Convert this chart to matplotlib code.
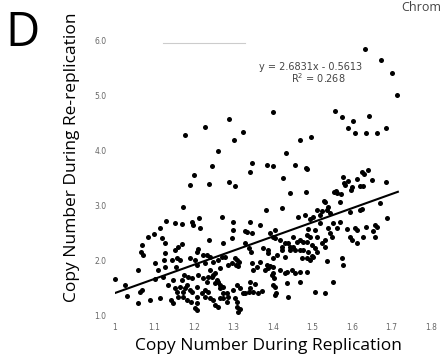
import matplotlib
matplotlib.use('Agg')
import matplotlib.pyplot as plt
import numpy as np

# titik data (copy number replikasi, copy number re-replikasi)
titik = [
    # outlier atas
    (1.633, 5.84), (1.673, 5.64), (1.701, 5.40), (1.714, 5.00), (1.400, 4.69),
    (1.289, 4.56), (1.324, 4.33), (1.301, 4.18), (1.177, 4.27), (1.228, 4.42),
    (1.261, 3.98), (1.246, 3.71), (1.200, 3.55), (1.190, 3.36), (1.238, 3.38),
    (1.289, 3.42), (1.304, 3.35), (1.347, 3.76), (1.342, 3.60), (1.385, 3.73),
    (1.400, 3.71), (1.557, 4.71), (1.575, 4.60), (1.603, 4.53), (1.643, 4.62),
    (1.590, 4.40), (1.608, 4.31), (1.635, 4.31), (1.663, 4.31), (1.686, 4.40),
    (1.468, 4.18), (1.496, 4.24), (1.433, 3.95), (1.456, 3.73), (1.484, 3.67),
    (1.425, 3.49), (1.484, 3.24), (1.443, 3.22), (1.172, 2.96), (1.382, 2.91),
    (1.423, 2.95), (1.481, 2.82),
    # kelompok kanan di atas garis
    (1.577, 3.51), (1.590, 3.44), (1.613, 3.47), (1.625, 3.60), (1.630, 3.56),
    (1.641, 3.64), (1.620, 3.35), (1.628, 3.35), (1.600, 3.33), (1.582, 3.36),
    (1.559, 3.25), (1.562, 3.22), (1.572, 3.20), (1.686, 3.42), (1.570, 3.05),
    (1.532, 3.05), (1.537, 2.91), (1.544, 2.85), (1.511, 2.91), (1.519, 2.82),
    (1.494, 2.75), (1.463, 2.78), (1.671, 3.04), (1.689, 2.76), (1.625, 2.93),
    (1.595, 2.87), (1.486, 3.65), (1.501, 2.78), (1.524, 2.89), (1.539, 2.96),
    (1.529, 3.07), (1.554, 3.24), (1.580, 3.40), (1.597, 3.27), (1.651, 3.45),
    (1.620, 2.91),
    # kelompok kanan di bawah garis
    (1.658, 2.64), (1.663, 2.60), (1.653, 2.53), (1.635, 2.60), (1.658, 2.42),
    (1.608, 2.58), (1.613, 2.55), (1.587, 2.56), (1.595, 2.42), (1.600, 2.36),
    (1.613, 2.31), (1.628, 2.42), (1.570, 2.69), (1.562, 2.58), (1.552, 2.67),
    (1.539, 2.58), (1.544, 2.49), (1.549, 2.42), (1.532, 2.36), (1.524, 2.31),
    (1.532, 2.24), (1.511, 2.42), (1.506, 2.55), (1.519, 2.67), (1.489, 2.56),
    (1.486, 2.45), (1.494, 2.42), (1.476, 2.33), (1.461, 2.33), (1.451, 2.42),
    (1.451, 2.24), (1.456, 2.18), (1.443, 2.24), (1.430, 2.31), (1.418, 2.36),
    (1.405, 2.55), (1.400, 2.42), (1.423, 2.18), (1.430, 2.05), (1.410, 2.09),
    (1.400, 2.04), (1.387, 2.13), (1.385, 1.91), (1.387, 1.85), (1.400, 1.87),
    (1.400, 1.76), (1.400, 1.55), (1.435, 1.78), (1.456, 1.76), (1.468, 1.78),
    (1.494, 2.00), (1.501, 2.05), (1.473, 2.04), (1.468, 2.18), (1.537, 1.98),
    (1.575, 2.04), (1.577, 1.91), (1.468, 1.60), (1.552, 1.60), (1.375, 2.22),
    (1.506, 1.42), (1.532, 1.40), (1.438, 1.33), (1.408, 1.40), (1.372, 1.44),
    (1.349, 1.42), (1.338, 1.42), (1.329, 1.40), (1.309, 1.24), (1.311, 1.05),
    (1.316, 1.11), (1.284, 1.40), (1.286, 1.33),
    # bagian tengah
    (1.271, 2.78), (1.299, 2.69), (1.299, 2.55), (1.342, 2.69), (1.367, 2.64),
    (1.334, 2.51), (1.347, 2.49), (1.238, 2.36), (1.273, 2.31), (1.296, 2.40),
    (1.329, 2.31), (1.339, 2.22), (1.344, 2.15), (1.387, 2.18), (1.392, 2.49),
    (1.405, 2.40), (1.423, 2.24), (1.438, 2.31), (1.443, 2.18), (1.468, 2.36),
    (1.486, 2.33), (1.476, 2.18), (1.489, 2.15), (1.499, 2.27), (1.506, 2.22),
    (1.499, 2.07), (1.486, 2.04), (1.511, 2.15), (1.223, 2.09), (1.241, 2.05),
    (1.248, 1.96), (1.261, 2.00), (1.271, 2.05), (1.278, 2.05), (1.286, 1.91),
    (1.296, 1.95), (1.304, 2.04), (1.309, 2.00), (1.314, 1.96), (1.306, 1.91),
    (1.311, 1.89), (1.347, 1.95), (1.349, 1.82), (1.359, 1.87), (1.367, 1.96),
    (1.380, 1.82), (1.392, 1.89), (1.397, 1.73), (1.403, 1.67), (1.418, 1.82),
    (1.430, 1.76), (1.448, 1.82), (1.486, 1.78), (1.405, 1.51), (1.435, 1.58),
    (1.241, 1.82), (1.248, 1.73), (1.235, 1.69), (1.223, 1.67), (1.233, 1.60),
    (1.258, 1.64), (1.253, 1.58), (1.228, 1.45), (1.235, 1.42), (1.220, 1.40),
    (1.266, 1.49), (1.273, 1.51), (1.299, 1.45), (1.309, 1.55), (1.316, 1.49),
    (1.342, 1.60), (1.342, 1.49), (1.354, 1.56), (1.324, 1.40), (1.362, 1.40),
    (1.405, 1.36), (1.304, 1.31), (1.309, 1.15), (1.248, 1.27), (1.273, 1.31),
    (1.284, 1.24),
    # bagian kiri
    (1.195, 2.69), (1.197, 2.64), (1.213, 2.76), (1.215, 2.58), (1.114, 2.58),
    (1.099, 2.47), (1.084, 2.42), (1.119, 2.40), (1.127, 2.31), (1.068, 2.27),
    (1.066, 2.15), (1.071, 2.09), (1.058, 1.82), (1.000, 1.65), (1.025, 1.55),
    (1.030, 1.35), (1.068, 1.45), (1.058, 1.22), (1.089, 1.27), (1.114, 1.31),
    (1.142, 1.27), (1.147, 1.22), (1.159, 1.33), (1.172, 1.33), (1.182, 1.27),
    (1.192, 1.24), (1.203, 1.13), (1.127, 2.13), (1.124, 2.00), (1.101, 1.95),
    (1.109, 1.82), (1.127, 1.87), (1.152, 2.18), (1.159, 2.24), (1.170, 2.29),
    (1.157, 2.04), (1.165, 2.00), (1.144, 2.00), (1.154, 1.87), (1.190, 2.04),
    (1.203, 2.00), (1.208, 1.91), (1.208, 2.15), (1.210, 2.20), (1.233, 2.09),
    (1.228, 1.95), (1.266, 1.85), (1.253, 1.76), (1.175, 1.73), (1.170, 1.64),
    (1.185, 1.69), (1.195, 1.67), (1.210, 1.73), (1.246, 1.69), (1.261, 1.60),
    (1.266, 1.55), (1.182, 1.55), (1.177, 1.49), (1.190, 1.45), (1.195, 1.42),
    (1.208, 1.51), (1.228, 1.33), (1.241, 1.31), (1.208, 1.33), (1.208, 1.22),
    (1.152, 1.49), (1.134, 1.55), (1.147, 1.64), (1.165, 1.51), (1.122, 1.69),
    (1.101, 1.65), (1.157, 1.42), (1.172, 1.42), (1.273, 1.40), (1.266, 1.31),
    (1.253, 1.18), (1.261, 1.15), (1.208, 1.09), (1.129, 2.71), (1.152, 2.67),
    (1.170, 2.65), (1.329, 2.53), (1.063, 1.42),
]
x_rep = [p[0] for p in titik]
y_rerep = [p[1] for p in titik]

# garis tren seperti yang terlihat pada gambar
garis_x = [1.0, 1.716]
garis_y = [1.40, 3.24]

# garis abu-abu samar di bagian atas
samar_x = [1.122, 1.329]
samar_y = [5.95, 5.95]

xticks = [1.0, 1.1, 1.2, 1.3, 1.4, 1.5, 1.6, 1.7, 1.8]
xticklabels = ['1', '1.1', '1.2', '1.3', '1.4', '1.5', '1.6', '1.7', '1.8']
yticks = [1, 2, 3, 4, 5, 6]
yticklabels = ['1.0', '2.0', '3.0', '4.0', '5.0', '6.0']

fig = plt.figure(figsize=(4.43, 3.64), dpi=100)
ax = fig.add_axes([0.2596, 0.1346, 0.7134, 0.7555])
ax.set_xlim(1.0, 1.8)
ax.set_ylim(1.0, 6.0)

ax.scatter(x_rep, y_rerep, s=13, color='black', linewidths=0, clip_on=False, zorder=3)
ax.plot(garis_x, garis_y, color='black', lw=1.5, zorder=4)
ax.plot(samar_x, samar_y, color='#cccccc', lw=0.8)

for s in ax.spines.values():
    s.set_visible(False)
ax.set_xticks(xticks)
ax.set_xticklabels(xticklabels)
ax.set_yticks(yticks)
ax.set_yticklabels(yticklabels)
ax.tick_params(length=0, labelsize=5.5, labelcolor='#666666')
ax.tick_params(axis='x', pad=6)
ax.tick_params(axis='y', pad=6)

ax.text(1.494, 5.45, 'y = 2.6831x - 0.5613', fontsize=7, color='#444444', ha='center')
ax.text(1.514, 5.21, 'R$^2$ = 0.268', fontsize=7, color='#444444', ha='center')

ax.set_xlabel('Copy Number During Replication', fontsize=12.5, family='Open Sans')
ax.xaxis.set_label_coords(0.487, -0.085)
ax.set_ylabel('Copy Number During Re-replication', fontsize=12.5, family='Open Sans')
ax.yaxis.set_label_coords(-0.11, 0.575)

fig.text(0.012, 0.875, 'D', fontsize=34, family='Open Sans')
fig.text(0.995, 0.998, 'Chrom', fontsize=9, family='Open Sans', color='#444444',
         va='top', ha='right')

fig.savefig('out.png', dpi=100, facecolor='white')
